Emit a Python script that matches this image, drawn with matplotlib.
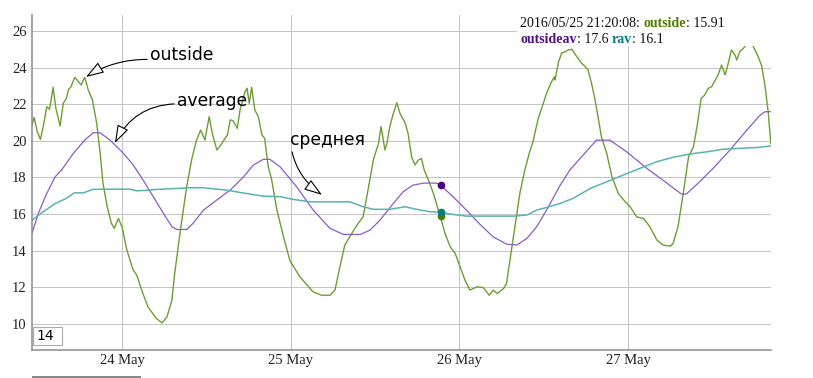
import matplotlib
matplotlib.use('Agg')
import matplotlib.pyplot as plt
import matplotlib.dates as mdates
from matplotlib.patches import Rectangle
from matplotlib.ticker import MultipleLocator
import pandas as pd

# hours counted from 2016-05-23 00:00
start = pd.Timestamp('2016-05-23')

outside_h = [11.2, 11.5, 11.95, 12.4, 12.8, 13.3, 13.7, 14.2, 14.6, 15.2,
             15.65, 16.1, 16.4, 16.7, 17.3, 17.8, 18.2, 18.7, 19.2, 19.8,
             20.4, 20.9, 21.3, 21.9, 22.5, 22.9, 23.5, 24.0, 24.7, 25.6,
             26.1, 26.8, 27.7, 28.9, 29.7, 30.4, 31.1, 31.5, 32.25, 33.2,
             33.9, 34.6, 35.2, 35.8, 36.4, 36.9, 37.5, 37.9, 38.5, 39.0,
             39.4, 39.8, 40.4, 40.8, 41.5, 41.8, 42.1, 42.45, 42.9, 43.4,
             43.9, 44.3, 44.8, 45.3, 46.0, 46.95, 47.9, 49.3, 51.2, 52.4,
             53.6, 54.3, 55.0, 55.7, 56.7, 57.6, 58.3, 59.0, 59.75, 60.5,
             60.85, 61.1, 61.4, 61.7, 62.1, 62.6, 63.1, 63.55, 64.3, 64.7,
             65.2, 65.7, 66.15, 66.6, 67.0, 67.6, 68.3, 68.8, 69.25, 69.95,
             70.7, 71.4, 72.1, 72.8, 73.5, 74.5, 75.4, 76.25, 76.8, 77.4,
             78.3, 78.7, 79.2, 79.9, 80.6, 81.3, 82.0, 82.5, 83.2, 83.9,
             84.4, 85.0, 85.5, 85.6, 86.1, 86.55, 87.0, 87.5, 88.0, 88.7,
             89.4, 89.9, 90.3, 90.8, 91.3, 91.8, 92.2, 92.96, 93.7, 94.6,
             95.6, 96.3, 97.2, 98.2, 99.1, 100.1, 101.0, 102.0, 102.4, 103.1,
             103.85, 104.6, 105.3, 105.8, 106.4, 106.9, 107.4, 107.9, 108.4, 108.8,
             109.3, 109.8, 110.25, 110.7, 111.2, 111.45, 111.9, 112.4, 112.9, 113.3,
             113.8, 114.5, 115.0, 115.5, 115.95, 116.3]
outside_v = [20.86, 21.28, 20.5, 20.08, 20.77, 21.86, 21.72, 22.92, 21.77, 20.81,
             22.05, 22.32, 22.81, 22.92, 23.47, 23.23, 23.05, 23.47, 22.78, 22.23,
             20.96, 19.32, 17.68, 16.40, 15.49, 15.22, 15.76, 15.31, 14.03, 12.94,
             12.67, 11.85, 10.93, 10.30, 10.06, 10.39, 11.30, 12.76, 14.95, 17.49,
             18.95, 20.04, 20.59, 20.04, 21.32, 20.32, 19.5, 19.68, 20.04, 20.32,
             21.14, 21.1, 20.68, 21.68, 22.68, 22.87, 22.05, 22.92, 21.68, 21.32,
             20.32, 20.14, 18.6, 17.86, 16.3, 14.8, 13.45, 12.58, 11.75, 11.57,
             11.57, 11.85, 13.12, 14.31, 14.95, 15.49, 15.85, 17.31, 18.95, 19.86,
             20.77, 20.22, 19.5, 19.86, 20.77, 21.5, 22.08, 21.5, 20.96, 20.41,
             19.13, 18.68, 18.95, 19.04, 18.40, 17.86, 17.13, 16.49, 15.91, 14.95,
             14.21, 13.85, 13.12, 12.39, 11.85, 12.03, 11.99, 11.57, 11.85, 11.67,
             11.94, 12.21, 13.49, 15.31, 17.13, 18.40, 19.4, 20.0, 21.2, 22.0,
             22.6, 23.14, 23.5, 23.32, 24.3, 24.8, 24.85, 24.96, 25.0, 24.6,
             24.23, 24.05, 23.87, 23.14, 22.23, 21.14, 20.22, 19.32, 18.04, 17.13,
             16.67, 16.40, 15.85, 15.76, 15.31, 14.58, 14.31, 14.25, 14.40, 15.31,
             17.13, 19.13, 19.68, 20.77, 22.32, 22.5, 22.87, 22.96, 23.32, 23.6,
             24.14, 23.6, 24.23, 24.96, 24.69, 24.41, 24.87, 25.05, 25.3, 25.5,
             25.15, 24.6, 24.1, 22.96, 21.5, 19.86]

avg_h = [11.2, 12.1, 13.3, 14.5, 15.4, 17.1, 18.7, 19.9, 20.9, 22.3,
         24.2, 25.6, 27.0, 28.45, 29.9, 31.1, 31.8, 33.2, 34.1, 35.6,
         37.5, 39.4, 41.3, 42.7, 44.1, 45.05, 46.5, 48.85, 51.2, 53.6,
         55.5, 57.9, 59.3, 60.7, 62.6, 64.0, 65.4, 66.9, 68.8, 69.25,
         71.1, 73.0, 74.9, 76.8, 78.7, 80.15, 81.6, 83.0, 84.4, 86.3,
         87.7, 89.6, 91.5, 93.4, 95.8, 98.65, 101.25, 103.6, 104.3, 106.2,
         108.1, 110.5, 112.9, 114.8, 115.5, 116.3]
avg_v = [14.95, 16.04, 17.13, 18.04, 18.40, 19.32, 20.04, 20.44, 20.44, 20.04,
         19.32, 18.68, 17.86, 16.95, 16.04, 15.31, 15.16, 15.16, 15.49, 16.22,
         16.77, 17.31, 18.04, 18.68, 18.99, 18.99, 18.58, 17.49, 16.22, 15.22,
         14.89, 14.89, 15.13, 15.67, 16.58, 17.22, 17.58, 17.69, 17.69, 17.6,
         16.95, 16.22, 15.45, 14.76, 14.36, 14.31, 14.67, 15.31, 16.22, 17.55,
         18.40, 19.22, 20.04, 20.04, 19.40, 18.50, 17.77, 17.09, 17.1, 17.77,
         18.50, 19.5, 20.59, 21.41, 21.59, 21.59]

rav_h = [11.2, 12.8, 14.5, 16.1, 17.2, 18.5, 19.9, 21.3, 25.1, 26.1,
         27.5, 28.9, 30.8, 33.7, 35.6, 37.0, 38.9, 40.8, 44.1, 46.5,
         48.4, 50.75, 56.4, 58.3, 59.75, 62.1, 64.3, 65.9, 67.8, 69.25,
         71.1, 73.0, 79.7, 81.6, 83.0, 84.4, 86.3, 88.2, 90.6, 93.0,
         95.3, 97.7, 100.1, 102.4, 104.8, 107.2, 109.5, 111.9, 114.5, 116.3]
rav_v = [15.67, 16.13, 16.58, 16.86, 17.16, 17.16, 17.35, 17.36, 17.36, 17.27,
         17.30, 17.35, 17.38, 17.44, 17.44, 17.38, 17.31, 17.18, 16.98, 16.95,
         16.80, 16.67, 16.67, 16.40, 16.26, 16.26, 16.40, 16.26, 16.13, 16.1,
         15.98, 15.89, 15.89, 15.95, 16.22, 16.36, 16.58, 16.86, 17.40, 17.77,
         18.13, 18.50, 18.86, 19.10, 19.28, 19.40, 19.54, 19.59, 19.64, 19.72]

# highlighted point (legend values)
hl_stamp = pd.Timestamp('2016-05-25 21:20:08')
hl_outside = 15.91
hl_avg = 17.6
hl_rav = 16.1

c_out, c_avg, c_rav = '#6c9f32', '#8b5cc2', '#58b3b3'
serif = 'Liberation Serif'


def to_time(hours):
    return start + pd.to_timedelta(hours, unit='h')


def tnum(hours):
    return mdates.date2num(start + pd.Timedelta(hours=hours))


fig = plt.figure(figsize=(8.13, 3.78), dpi=100)
ax = fig.add_axes([32 / 813, 28 / 378, 739 / 813, 335 / 378])

ax.plot(to_time(outside_h), outside_v, color=c_out, lw=1.0)
ax.plot(to_time(avg_h), avg_v, color=c_avg, lw=0.9)
ax.plot(to_time(rav_h), rav_v, color=c_rav, lw=1.1)

ax.plot([hl_stamp], [hl_avg], 'o', color='#4b0082', ms=4.5, zorder=5)
ax.plot([hl_stamp], [hl_outside], 'o', color='#4d7c00', ms=4.5, zorder=5)
ax.plot([hl_stamp], [hl_rav], 'o', color='#008080', ms=4.5, zorder=6)

ax.set_ylim(8.58, 26.87)
ax.set_xlim(to_time(11.2), to_time(116.33))
ax.yaxis.set_major_locator(MultipleLocator(2))
ax.xaxis.set_major_locator(mdates.DayLocator())
ax.xaxis.set_major_formatter(mdates.DateFormatter('%d %b'))
ax.grid(color='#c6c6c6', lw=0.75)
ax.set_axisbelow(True)
ax.tick_params(length=0, labelsize=10.5, colors='#222222')
ax.tick_params(axis='y', pad=4)
ax.tick_params(axis='x', pad=3)
for lab in ax.get_xticklabels() + ax.get_yticklabels():
    lab.set_family(serif)
for s in ['top', 'right']:
    ax.spines[s].set_visible(False)
for s in ['left', 'bottom']:
    ax.spines[s].set_color('#8a8a8a')
    ax.spines[s].set_linewidth(1.1)

# hand drawn style labels
arrow = dict(arrowstyle='-|>,head_length=0.9,head_width=0.3', fc='white', ec='black', lw=0.8,
             shrinkA=0, shrinkB=0)
ax.annotate('outside', xy=(tnum(18.88), 23.49), xytext=(tnum(27.98), 24.69),
            fontsize=12.3, va='center', ha='left',
            arrowprops=dict(arrow, connectionstyle='arc3,rad=0.15', relpos=(0, 0.25)))
ax.annotate('average', xy=(tnum(23.0), 19.88), xytext=(tnum(31.82), 22.17),
            fontsize=12.3, va='center', ha='left',
            arrowprops=dict(arrow, connectionstyle='arc3,rad=0.3', relpos=(0, 0.35)))
ax.annotate('среднея', xy=(tnum(52.45), 17.05), xytext=(tnum(47.9), 20.04),
            fontsize=12.3, va='center', ha='left',
            arrowprops=dict(arrow, connectionstyle='arc3,rad=0.25', relpos=(0, 0.75)))

# legend box on top of the plot
ax.add_patch(Rectangle((517 / 813, (378 - 46) / 378), 254 / 813, 42 / 378,
                       transform=fig.transFigure, fc='white', ec='none', zorder=8,
                       clip_on=False))


def colored_line(x, y, parts):
    txt, col, wt = parts[0]
    t = ax.text(x, y, txt, color=col, fontweight=wt, family=serif, fontsize=10,
                va='baseline', ha='left', zorder=9, transform=fig.transFigure)
    for txt, col, wt in parts[1:]:
        t = ax.annotate(txt, xy=(1, 0), xycoords=t, va='bottom', ha='left', color=col,
                        fontweight=wt, family=serif, fontsize=10, annotation_clip=False,
                        zorder=9)


colored_line(520 / 813, 1 - 27 / 378,
             [(hl_stamp.strftime('%Y/%m/%d %H:%M:%S') + ': ', '#111111', 'normal'),
              ('outside', '#4d7c00', 'bold'),
              (': %.2f' % hl_outside, '#111111', 'normal')])
colored_line(520 / 813, 1 - 43 / 378,
             [('outsideav', '#4b0f8c', 'bold'),
              (': %s ' % hl_avg, '#111111', 'normal'),
              ('rav', '#008080', 'bold'),
              (': %s' % hl_rav, '#111111', 'normal')])

# range box and scroll bar
fig.add_artist(Rectangle((33 / 813, (378 - 345) / 378), 29 / 813, 18 / 378,
                         transform=fig.transFigure, fc='white', ec='#aaaaaa', lw=0.8, zorder=5))
fig.text(36 / 813, 1 - 336 / 378, '14', fontsize=10, va='center', ha='left', zorder=6)
fig.add_artist(Rectangle((32 / 813, 0), 109 / 813, 2.5 / 378,
                         transform=fig.transFigure, fc='#888888', ec='none'))

fig.savefig('out.png', dpi=100)
